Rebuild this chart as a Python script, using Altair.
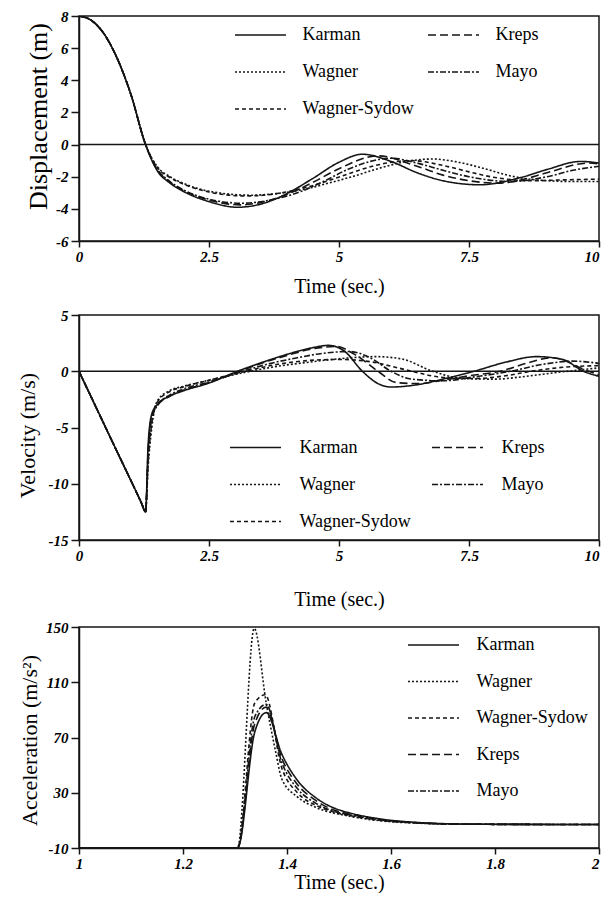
import altair as alt
import pandas as pd

FONT = "Liberation Serif"
INK = "#151515"

# ---------------- Panel 1: displacement (m) ----------------
disp_common_t = [0, 0.25, 0.5, 0.75, 1.0, 1.28]
disp_common = [8.0, 7.7, 6.8, 5.25, 3.1, 0.0]
disp_t = {
    "Karman": [1.5, 1.75, 2.0, 2.5, 3.05, 3.5, 4.0, 4.5, 5.0, 5.45, 6.0, 6.5, 7.0, 7.7, 8.5, 9.0, 9.65, 10],
    "Kreps": [1.5, 1.75, 2.0, 2.5, 3.1, 3.5, 4.0, 4.5, 5.0, 5.75, 6.5, 7.0, 7.5, 8.1, 8.5, 9.0, 9.8, 10],
    "Mayo": [1.5, 1.75, 2.0, 2.5, 3.15, 3.6, 4.2, 4.7, 5.2, 6.0, 6.5, 7.0, 7.5, 8.3, 9.0, 9.5, 10],
    "Wagner-Sydow": [1.5, 1.75, 2.0, 2.5, 3.2, 3.7, 4.2, 4.7, 5.2, 5.7, 6.4, 7.0, 7.5, 8.0, 8.7, 9.3, 10],
    "Wagner": [1.5, 1.75, 2.0, 2.5, 3.3, 3.8, 4.3, 4.8, 5.3, 5.8, 6.3, 6.8, 7.3, 7.8, 8.3, 8.8, 9.5, 10],
}
disp_v = {
    "Karman": [-1.6, -2.4, -2.9, -3.55, -3.9, -3.7, -3.05, -2.1, -1.1, -0.6, -1.05, -1.75, -2.25, -2.5, -2.05, -1.55, -1.05, -1.15],
    "Kreps": [-1.55, -2.35, -2.85, -3.45, -3.75, -3.6, -3.1, -2.35, -1.5, -0.7, -1.35, -1.9, -2.25, -2.4, -2.2, -1.75, -1.15, -1.2],
    "Mayo": [-1.5, -2.3, -2.8, -3.4, -3.65, -3.5, -3.0, -2.3, -1.5, -0.85, -1.15, -1.6, -2.0, -2.3, -2.0, -1.6, -1.35],
    "Wagner-Sydow": [-1.4, -2.05, -2.45, -2.95, -3.2, -3.1, -2.8, -2.35, -1.8, -1.3, -1.0, -1.3, -1.7, -2.05, -2.25, -2.2, -2.15],
    "Wagner": [-1.35, -2.0, -2.4, -2.9, -3.15, -3.05, -2.8, -2.4, -1.95, -1.45, -1.05, -0.9, -1.1, -1.5, -1.95, -2.2, -2.3, -2.3],
}

# ---------------- Panel 2: velocity (m/s) ----------------
vel_common_t = [0, 0.64, 1.2, 1.28]
vel_common = [0.0, -6.25, -11.7, -12.5]
vel_t = {
    "Karman": [1.33, 1.4, 1.5, 1.75, 2.0, 2.5, 3.05, 3.5, 4.0, 4.5, 4.8, 5.1, 5.45, 5.75, 6.0, 6.5, 7.0, 7.6, 8.2, 8.8, 9.3, 9.7, 10],
    "Kreps": [1.33, 1.4, 1.5, 1.75, 2.0, 2.5, 3.1, 3.5, 4.0, 4.5, 4.95, 5.3, 5.75, 6.1, 6.5, 7.0, 7.5, 8.1, 8.6, 9.1, 9.8, 10],
    "Mayo": [1.33, 1.4, 1.5, 1.75, 2.0, 2.5, 3.15, 3.6, 4.2, 4.7, 5.2, 5.6, 6.0, 6.4, 7.0, 7.6, 8.3, 8.9, 9.5, 10],
    "Wagner-Sydow": [1.33, 1.4, 1.5, 1.75, 2.0, 2.5, 3.2, 3.8, 4.4, 5.0, 5.6, 6.0, 6.4, 7.0, 7.6, 8.2, 8.7, 9.3, 10],
    "Wagner": [1.33, 1.4, 1.5, 1.75, 2.0, 2.5, 3.3, 3.9, 4.5, 5.1, 5.7, 6.2, 6.8, 7.4, 8.0, 8.6, 9.2, 9.8, 10],
}
vel_v = {
    "Karman": [-6.5, -3.8, -3.0, -2.2, -1.75, -1.05, 0.0, 0.75, 1.5, 2.1, 2.3, 1.8, 0.0, -1.1, -1.4, -1.2, -0.7, 0.0, 0.8, 1.3, 1.05, 0.0, -0.45],
    "Kreps": [-7.0, -4.0, -3.1, -2.2, -1.7, -1.0, 0.0, 0.7, 1.4, 2.0, 2.2, 1.5, 0.0, -1.0, -1.1, -0.8, -0.4, 0.0, 0.7, 1.2, 0.0, -0.3],
    "Mayo": [-7.5, -4.2, -3.1, -2.1, -1.6, -0.95, 0.0, 0.6, 1.2, 1.6, 1.75, 1.2, 0.0, -0.7, -0.85, -0.5, 0.0, 0.6, 0.9, 0.7],
    "Wagner-Sydow": [-8.0, -4.6, -2.8, -1.8, -1.4, -0.8, 0.0, 0.6, 0.95, 1.05, 0.85, 0.45, 0.0, -0.55, -0.65, -0.4, 0.0, 0.35, 0.5],
    "Wagner": [-8.5, -5.0, -2.7, -1.7, -1.35, -0.8, 0.0, 0.5, 0.85, 1.15, 1.3, 1.1, 0.0, -0.65, -0.7, -0.45, -0.1, 0.2, 0.3],
}

# ---------------- Panel 3: acceleration (m/s^2) ----------------
acc_common_t = [1.0, 1.305]
acc_common = [-9.8, -9.8]
acc_t = {
    "Karman": [1.338, 1.36, 1.39, 1.42, 1.455, 1.49, 1.52, 1.58, 1.65, 1.75, 2.0],
    "Kreps": [1.338, 1.36, 1.39, 1.42, 1.455, 1.49, 1.52, 1.58, 1.65, 1.75, 2.0],
    "Mayo": [1.338, 1.36, 1.39, 1.42, 1.455, 1.49, 1.52, 1.58, 1.65, 1.75, 2.0],
    "Wagner-Sydow": [1.338, 1.358, 1.39, 1.42, 1.455, 1.49, 1.52, 1.58, 1.65, 1.75, 2.0],
    "Wagner": [1.337, 1.36, 1.378, 1.39, 1.42, 1.455, 1.52, 1.58, 1.65, 1.75, 2.0],
}
acc_v = {
    "Karman": [74, 88, 58, 39, 26.5, 19, 15.5, 11, 8.5, 7.3, 7.0],
    "Kreps": [80, 92, 55, 36, 24.5, 17.5, 14.5, 10.5, 8.3, 7.2, 7.0],
    "Mayo": [85, 94, 52, 33, 22.5, 16.5, 14.0, 10.2, 8.2, 7.2, 7.0],
    "Wagner-Sydow": [95, 101, 48, 30, 21, 16, 13.5, 10, 8.2, 7.2, 7.0],
    "Wagner": [149, 95, 60, 40, 27, 19.5, 13, 9.7, 8.0, 7.2, 7.0],
}

# legend entries fill column by column
legend_order = ["Karman", "Wagner", "Wagner-Sydow", "Kreps", "Mayo"]
dash = {
    "Karman": [1, 0],
    "Kreps": [8, 4],
    "Wagner": [2, 2],
    "Mayo": [6, 2, 2, 2],
    "Wagner-Sydow": [4, 3],
}
SYMBOL = "M-2.833,0H2.833"


def build(common_t, common_v, ts, vs):
    rows = []
    for name in ts:
        for t, v in zip(common_t + ts[name], common_v + vs[name]):
            rows.append({"series": name, "t": t, "v": v})
    return pd.DataFrame(rows)


def panel(df, xdom, xvals, xtp, ydom, yvals, ytitle, ytsize, ytp, ty, leg, w, h, zero):
    xmax = xvals[-1]
    x = alt.X("t:Q", scale=alt.Scale(domain=xdom, nice=False, zero=False),
              axis=alt.Axis(values=xvals, tickCount=len(xvals), title="Time (sec.)", titlePadding=xtp,
                            labelExpr="datum.value + ''", labelOverlap=False,
                            labelAlign=alt.condition(f"datum.value == {xmax}", alt.value("right"), alt.value("center"))))
    y = alt.Y("v:Q", scale=alt.Scale(domain=ydom, nice=False, zero=False),
              axis=alt.Axis(values=yvals, tickCount=len(yvals), title=ytitle, titleFontSize=ytsize,
                            titleY=ty, labelOverlap=False, titlePadding=ytp, labelExpr="datum.value + ''"))
    lines = alt.Chart(df).mark_line(color=INK, strokeWidth=1.6, interpolate="monotone", clip=True).encode(
        x=x, y=y,
        strokeDash=alt.StrokeDash(
            "series:N", sort=legend_order,
            scale=alt.Scale(domain=legend_order, range=[dash[n] for n in legend_order]),
            legend=alt.Legend(orient="none", title=None, padding=0,
                              symbolType=SYMBOL, symbolSize=324, symbolOffset=16.5,
                              symbolStrokeWidth=1.6, symbolStrokeColor=INK,
                              labelFont=FONT, labelFontSize=18, labelColor="black",
                              **leg),
        ),
    )
    layers = [lines]
    if zero:
        zl = alt.Chart(pd.DataFrame({"z": [0]})).mark_rule(color=INK, strokeWidth=1.5).encode(y=alt.Y("z:Q"))
        layers = [zl, lines]
    return alt.layer(*layers).properties(width=w, height=h)


df1 = build(disp_common_t, disp_common, disp_t, disp_v)
df2 = build(vel_common_t, vel_common, vel_t, vel_v)
df3 = build(acc_common_t, acc_common, acc_t, acc_v)

p1 = panel(df1, [0, 10], [0, 2.5, 5, 7.5, 10], 12.5, [-6, 8], [-6, -4, -2, 0, 2, 4, 6, 8],
           "Displacement (m)", 26, 4.2, 100,
           dict(legendX=155, legendY=9, columns=2, labelOffset=32, columnPadding=10, rowPadding=18),
           520, 225, True)
p2 = panel(df2, [0, 10], [0, 2.5, 5, 7.5, 10], 26, [-15, 5], [-15, -10, -5, 0, 5],
           "Velocity (m/s)", 22, 8.7, 120,
           dict(legendX=150, legendY=122.5, columns=2, labelOffset=34, columnPadding=17, rowPadding=18),
           520, 225, True)
p3 = panel(df3, [1, 2], [1, 1.2, 1.4, 1.6, 1.8, 2], 1, [-10, 150], [-10, 30, 70, 110, 150],
           "Acceleration (m/s²)", 22, 4.2, 113,
           dict(legendX=328, legendY=8, columns=1, labelOffset=33, rowPadding=17.5),
           520, 221, False)

chart = alt.vconcat(p1, p2, p3, spacing=9).resolve_scale(strokeDash="independent").resolve_legend(
    strokeDash="independent"
).properties(
    padding={"left": 7, "top": 0, "right": 0, "bottom": 0},
    background="white",
).configure_view(
    stroke=INK, strokeWidth=1.5
).configure_axis(
    labelFont=FONT, labelFontSize=15, labelFontStyle="italic", labelFontWeight="bold",
    labelColor="black", titleFont=FONT, titleFontWeight="normal", titleColor="black",
    titleFontSize=20, domainColor=INK, domainWidth=1.5, tickColor=INK, tickWidth=1.5,
    grid=False, labelOverlap=False,
).configure_axisY(
    tickSize=8, labelPadding=3,
).configure_axisX(
    tickSize=6, labelPadding=2, labelFlush=False,
)

chart.save("out.html", embed_options={"renderer": "svg", "actions": False})
